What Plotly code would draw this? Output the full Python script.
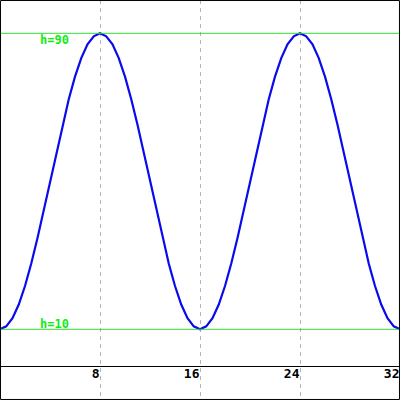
import plotly.graph_objects as go

# Curve samples (x every 0.5)
x_vals = [i * 0.5 for i in range(65)]
h_vals = [
    10.0, 10.8, 13.0, 16.7, 21.7, 27.8, 34.7, 42.2, 50.0, 57.8, 65.3, 72.2, 78.3, 83.3, 87.0, 89.2,
    90.0, 89.2, 87.0, 83.3, 78.3, 72.2, 65.3, 57.8, 50.0, 42.2, 34.7, 27.8, 21.7, 16.7, 13.0, 10.8,
    10.0, 10.8, 13.0, 16.7, 21.7, 27.8, 34.7, 42.2, 50.0, 57.8, 65.3, 72.2, 78.3, 83.3, 87.0, 89.2,
    90.0, 89.2, 87.0, 83.3, 78.3, 72.2, 65.3, 57.8, 50.0, 42.2, 34.7, 27.8, 21.7, 16.7, 13.0, 10.8,
    10.0,
]
x_ticks = [8, 16, 24, 32]
x_tick_labels = ["8", "16", "24", "32"]
level_vals = [90, 10]
level_labels = ["h=90", "h=10"]

fig = go.Figure()
fig.add_trace(go.Scatter(x=x_vals, y=h_vals, mode="lines",
                         line=dict(color="#0a0aee", width=2.2), hoverinfo="skip"))

for v in level_vals:
    fig.add_shape(type="line", xref="paper", x0=0, x1=1, yref="y", y0=v, y1=v,
                  line=dict(color="#33dd33", width=1))

for v, lab in zip(level_vals, level_labels):
    fig.add_annotation(x=3.1, y=v, xref="x", yref="y", text=lab, showarrow=False,
                       xanchor="left", yanchor="top" if v > 50 else "bottom",
                       yshift=1 if v > 50 else -3, borderpad=0,
                       font=dict(family="DejaVu Sans Mono", size=12, color="#11ee11", weight="bold"))

fig.add_shape(type="rect", xref="paper", yref="paper", x0=0.0013, x1=0.9987, y0=0.0013, y1=0.9987,
              line=dict(color="black", width=1), fillcolor="rgba(0,0,0,0)")

fig.update_layout(
    width=400, height=400, margin=dict(l=0, r=0, t=0, b=0, pad=0, autoexpand=False),
    paper_bgcolor="white", plot_bgcolor="white", showlegend=False,
    xaxis=dict(range=[0, 32], anchor="free", position=0.085, automargin=False,
               tickvals=x_ticks, ticktext=x_tick_labels, ticks="",
               ticklabelposition="outside left", ticklabelstandoff=-5,
               tickfont=dict(family="DejaVu Sans Mono", size=13, color="black", weight="bold"),
               showline=True, linecolor="black", linewidth=1,
               showgrid=True, gridcolor="#b4b4b4", gridwidth=1, griddash="4px,4px",
               zeroline=False, fixedrange=True),
    yaxis=dict(range=[-9.1, 99], showticklabels=False, ticks="", showgrid=False, automargin=False,
               zeroline=False, showline=False, fixedrange=True),
)

fig.write_html(
    "out.html",
    config={"displayModeBar": False, "responsive": False},
    post_script="document.body.style.margin='0';document.body.style.overflow='hidden';",
)
